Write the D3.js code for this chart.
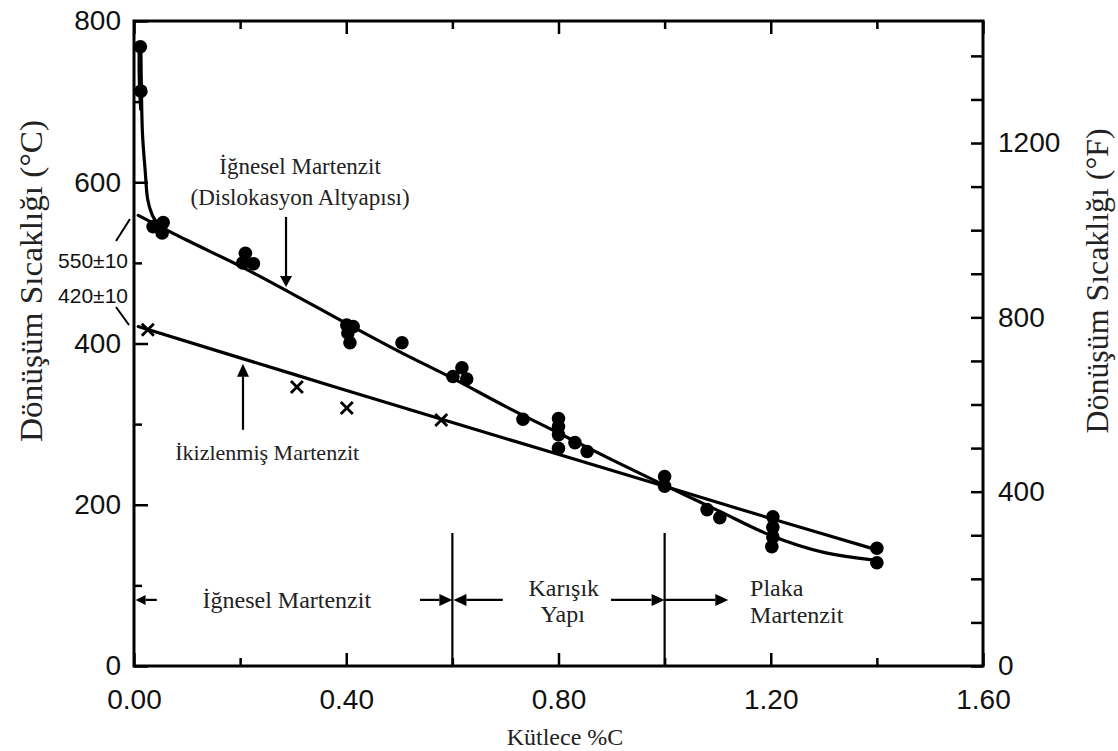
<!DOCTYPE html>
<html>
<head>
<meta charset="utf-8">
<script src="https://cdn.jsdelivr.net/npm/d3@7"></script>
<style>
  body { margin: 0; background: #fff; }
</style>
</head>
<body>
<svg id="chart" width="1118" height="751"></svg>
<script>
// ---- Data: Ms temperature (°C) versus carbon content (mass %C) ----

// Lath martensite measurements (filled circles)
const lathPoints = [
  [0.012, 768], [0.013, 713],
  [0.036, 545], [0.055, 550], [0.053, 537],
  [0.21, 512], [0.205, 500], [0.225, 499],
  [0.401, 423], [0.413, 421], [0.403, 413], [0.407, 401],
  [0.505, 401],
  [0.618, 370], [0.601, 359], [0.627, 356],
  [0.733, 306],
  [0.80, 307], [0.80, 297], [0.80, 287], [0.80, 270],
  [0.831, 277], [0.854, 266],
  [1.0, 235], [1.0, 223],
  [1.08, 194], [1.104, 184],
  [1.204, 185], [1.204, 172], [1.204, 160], [1.202, 148],
  [1.40, 146], [1.40, 128]
];

// Twinned martensite measurements (crosses)
const twinnedPoints = [
  [0.026, 417], [0.307, 346], [0.401, 320], [0.579, 305]
];

// Fitted curve through the lath martensite data
const lathCurve = [
  [0.008, 559], [0.1, 528], [0.2, 496], [0.3, 461], [0.4, 425],
  [0.5, 390], [0.6, 357], [0.7, 322], [0.8, 289], [0.9, 256],
  [1.0, 224], [1.1, 193], [1.2, 162], [1.3, 141], [1.4, 131]
];

// Steep low-carbon branch rising to the iron transformation temperature
const lathBranch = [
  [0.013, 768], [0.014, 713], [0.016, 660], [0.021, 615],
  [0.026, 578], [0.034, 560], [0.045, 548]
];
const lathBranchInner = [
  [0.009, 768], [0.009, 735], [0.010, 713], [0.012, 690]
];

// Fitted line through the twinned martensite data
const twinnedCurve = [
  [0.008, 421], [0.3, 362], [0.6, 302], [1.0, 223], [1.2, 183], [1.4, 144]
];

// Morphology boundaries (mass %C)
const boundaries = [0.6, 1.0];

// Axis ticks
const xTicksMajor = [0, 0.4, 0.8, 1.2, 1.6];
const xTicksMinor = [0.2, 0.6, 1.0, 1.4];
const cTicksMajor = [0, 200, 400, 600, 800];
const cTicksMinor = [100, 300, 500, 700];
const fTicksMajor = [0, 400, 800, 1200];
const fTicksMinor = [100, 200, 300, 500, 600, 700, 900, 1000, 1100, 1300, 1400];

// ---- Scales ----
const svg = d3.select("#chart");
const x = d3.scaleLinear().domain([0, 1.6]).range([134, 983]);
const y = d3.scaleLinear().domain([0, 800]).range([666, 21]);
const yF = d3.scaleLinear().domain([0, 1480]).range([666, 21]);

const SANS = "'Liberation Sans', Arial, Helvetica, sans-serif";
const SERIF = "'Liberation Serif', 'Times New Roman', serif";
const INK = "#111";
const TEXT = "#222";

function styleAxis(g) {
  g.select(".domain").remove();
  g.selectAll(".tick line").attr("stroke", "#000").attr("stroke-width", 2.5);
  g.selectAll(".tick text")
    .attr("font-family", SANS)
    .attr("font-size", 28)
    .attr("fill", INK);
}

// ---- Axes (ticks point inward) ----
svg.append("g").attr("transform", `translate(0,${y(0)})`)
  .call(d3.axisBottom(x).tickValues(xTicksMajor).tickSize(-13).tickPadding(23)
    .tickFormat(d3.format(".2f")))
  .call(styleAxis);
svg.append("g").attr("transform", `translate(0,${y(0)})`)
  .call(d3.axisBottom(x).tickValues(xTicksMinor).tickSize(-8).tickFormat(""))
  .call(styleAxis);
svg.append("g").attr("transform", `translate(0,${y(800)})`)
  .call(d3.axisTop(x).tickValues(xTicksMajor).tickSize(-13).tickFormat(""))
  .call(styleAxis);
svg.append("g").attr("transform", `translate(0,${y(800)})`)
  .call(d3.axisTop(x).tickValues(xTicksMinor).tickSize(-8).tickFormat(""))
  .call(styleAxis);

svg.append("g").attr("transform", `translate(${x(0)},0)`)
  .call(d3.axisLeft(y).tickValues(cTicksMajor).tickSize(-14).tickPadding(13)
    .tickFormat(d3.format("d")))
  .call(styleAxis);
svg.append("g").attr("transform", `translate(${x(0)},0)`)
  .call(d3.axisLeft(y).tickValues(cTicksMinor).tickSize(-8).tickFormat(""))
  .call(styleAxis);

svg.append("g").attr("transform", `translate(${x(1.6)},0)`)
  .call(d3.axisRight(yF).tickValues(fTicksMajor).tickSize(-12).tickPadding(15)
    .tickFormat(d3.format("d")))
  .call(styleAxis);
svg.append("g").attr("transform", `translate(${x(1.6)},0)`)
  .call(d3.axisRight(yF).tickValues(fTicksMinor).tickSize(-12).tickFormat(""))
  .call(styleAxis);

// Plot frame
svg.append("rect")
  .attr("x", x(0)).attr("y", y(800))
  .attr("width", x(1.6) - x(0)).attr("height", y(0) - y(800))
  .attr("fill", "none").attr("stroke", "#000").attr("stroke-width", 3);

// ---- Axis titles ----
svg.append("text")
  .attr("transform", "translate(31,281) rotate(-90)")
  .attr("text-anchor", "middle").attr("dominant-baseline", "central")
  .attr("font-family", SERIF).attr("font-size", 32).attr("fill", TEXT)
  .attr("textLength", 322).attr("lengthAdjust", "spacingAndGlyphs")
  .text("Dönüşüm Sıcaklığı (°C)");
svg.append("text")
  .attr("transform", "translate(1097,281) rotate(-90)")
  .attr("text-anchor", "middle").attr("dominant-baseline", "central")
  .attr("font-family", SERIF).attr("font-size", 32).attr("fill", TEXT)
  .attr("textLength", 305).attr("lengthAdjust", "spacingAndGlyphs")
  .text("Dönüşüm Sıcaklığı (°F)");
svg.append("text")
  .attr("x", 565).attr("y", 745)
  .attr("text-anchor", "middle")
  .attr("font-family", SERIF).attr("font-size", 24).attr("fill", TEXT)
  .text("Kütlece %C");

// ---- Curves ----
const line = d3.line()
  .x(d => x(d[0])).y(d => y(d[1]))
  .curve(d3.curveCatmullRom.alpha(0.5));

[lathCurve, lathBranch, lathBranchInner, twinnedCurve].forEach((c, i) => {
  svg.append("path")
    .datum(c)
    .attr("d", line)
    .attr("fill", "none")
    .attr("stroke", "#000")
    .attr("stroke-width", i === 2 ? 2.4 : 3.2)
    .attr("stroke-linecap", "round");
});

// ---- Markers ----
svg.append("g").selectAll("circle")
  .data(lathPoints).join("circle")
  .attr("cx", d => x(d[0])).attr("cy", d => y(d[1]))
  .attr("r", 6.8).attr("fill", "#000");

svg.append("g").selectAll("path")
  .data(twinnedPoints).join("path")
  .attr("transform", d => `translate(${x(d[0])},${y(d[1])})`)
  .attr("d", "M-6,-6L6,6M-6,6L6,-6")
  .attr("stroke", "#000").attr("stroke-width", 2.8).attr("fill", "none");

// ---- Morphology boundaries ----
svg.append("g").selectAll("line")
  .data(boundaries).join("line")
  .attr("x1", d => x(d)).attr("x2", d => x(d))
  .attr("y1", y(165)).attr("y2", y(0))
  .attr("stroke", "#000").attr("stroke-width", 2.2);

// ---- Arrows ----
function arrow(from, to, len = 13, half = 6) {
  const x1 = x(from[0]), y1 = y(from[1]), x2 = x(to[0]), y2 = y(to[1]);
  const a = Math.atan2(y2 - y1, x2 - x1);
  const bx = x2 - len * Math.cos(a), by = y2 - len * Math.sin(a);
  svg.append("line")
    .attr("x1", x1).attr("y1", y1).attr("x2", bx).attr("y2", by)
    .attr("stroke", "#000").attr("stroke-width", 2.2);
  const px = -Math.sin(a) * half, py = Math.cos(a) * half;
  svg.append("path")
    .attr("d", `M${x2},${y2}L${bx + px},${by + py}L${bx - px},${by - py}Z`)
    .attr("fill", "#000");
}

// Region arrows along the bottom
const bandT = 82;
arrow([0.043, bandT], [0.003, bandT], 10, 5);
arrow([0.539, bandT], [0.6, bandT]);
arrow([0.695, bandT], [0.602, bandT]);
arrow([0.899, bandT], [1.0, bandT]);
arrow([1.0, bandT], [1.12, bandT]);

// Pointers to the two curves
arrow([0.2865, 557], [0.2865, 470], 11, 6);
arrow([0.2054, 293], [0.2054, 375], 13, 6);

// Intercept leaders
svg.append("line").attr("x1", 116).attr("y1", 241).attr("x2", 130).attr("y2", 219)
  .attr("stroke", "#000").attr("stroke-width", 2);
svg.append("line").attr("x1", 116).attr("y1", 307).attr("x2", 129).attr("y2", 325)
  .attr("stroke", "#000").attr("stroke-width", 2);

// ---- Annotation text ----
function label(txt, px, py, opts = {}) {
  svg.append("text")
    .attr("x", px).attr("y", py)
    .attr("text-anchor", opts.anchor || "middle")
    .attr("font-family", opts.family || SERIF)
    .attr("font-size", opts.size || 24)
    .attr("fill", opts.fill || TEXT)
    .text(txt);
}

label("İğnesel Martenzit", x(0.313), y(610), { size: 23 });
label("(Dislokasyon Altyapısı)", x(0.313), y(572), { size: 23 });
label("İkizlenmiş Martenzit", x(0.251), y(255.5), { size: 22 });
label("İğnesel Martenzit", x(0.288), y(72), { size: 24 });
label("Karışık", x(0.81), y(87), { size: 24 });
label("Yapı", x(0.808), y(54), { size: 24 });
label("Plaka", x(1.161), y(87), { size: 24, anchor: "start" });
label("Martenzit", x(1.161), y(53), { size: 24, anchor: "start" });

label("550±10", 128, 268, { family: SANS, size: 21, anchor: "end", fill: INK });
label("420±10", 128, 303, { family: SANS, size: 21, anchor: "end", fill: INK });
</script>
</body>
</html>
